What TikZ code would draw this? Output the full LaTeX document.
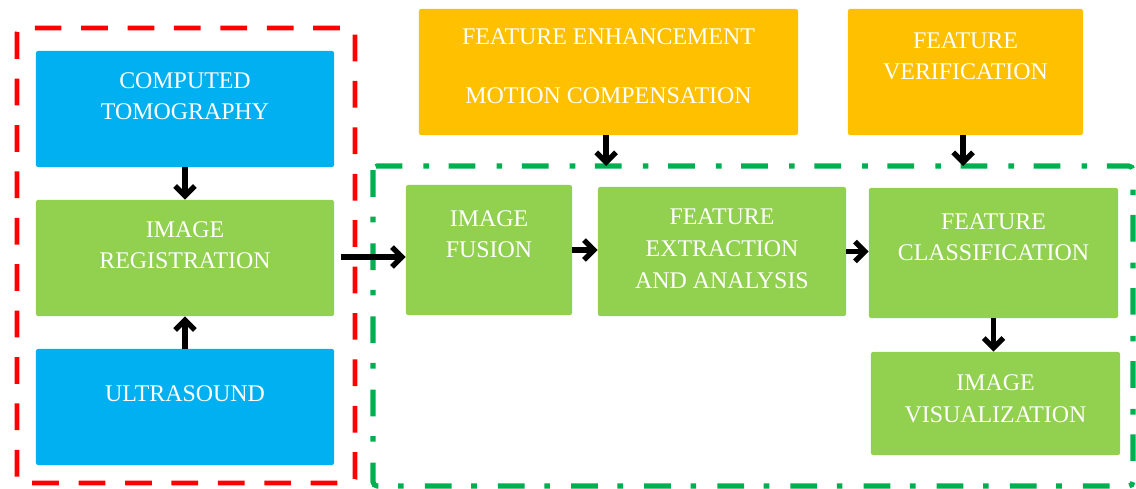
\documentclass[tikz,border=0pt]{standalone}
\usepackage{fontspec}
\setmainfont{Liberation Serif}
\usetikzlibrary{arrows.meta}
\definecolor{cblue}{HTML}{00B0F0}
\definecolor{cgreen}{HTML}{92D050}
\definecolor{corange}{HTML}{FFC000}
\definecolor{cred}{HTML}{FF0000}
\definecolor{cdgreen}{HTML}{00B050}
\begin{document}
\begin{tikzpicture}[x=0.025cm,y=-0.025cm,
  box/.style={rectangle, rounded corners=1.5pt, inner sep=0pt, align=center,
    text=white, font=\fontsize{17}{22.5}\selectfont},
  bluebox/.style={box, fill=cblue},
  greenbox/.style={box, fill=cgreen},
  orangebox/.style={box, fill=corange},
  arr/.style={line width=3.8pt, line cap=butt, -{Straight Barb[length=7pt,width=14pt]}},
  redframe/.style={draw=cred, line width=3.4pt, dash pattern=on 19pt off 14pt, rounded corners=3pt},
  greenframe/.style={draw=cdgreen, line width=3.6pt, dash pattern=on 19pt off 14pt on 4pt off 15pt, rounded corners=3pt}]
\useasboundingbox (0,0) rectangle (1136,488);

% frames
\coordinate (rtl) at (17,28);
\coordinate (rbr) at (355,483);
\coordinate (gtl) at (373,166);
\coordinate (gbr) at (1133,486);
\draw[redframe] (rtl) rectangle (rbr);
\draw[greenframe] (gtl) rectangle (gbr);

% boxes
\node[bluebox, minimum width=7.45cm, minimum height=2.9cm] (ct) at (185,109) {COMPUTED\\TOMOGRAPHY\\[-4pt]\mbox{}};
\node[greenbox, minimum width=7.45cm, minimum height=2.9cm] (reg) at (185,258) {IMAGE\\REGISTRATION\\[-4pt]\mbox{}};
\node[bluebox, minimum width=7.45cm, minimum height=2.9cm] (us) at (185,407) {ULTRASOUND\\[-4pt]\mbox{}};
\node[greenbox, minimum width=4.15cm, minimum height=3.25cm] (fus) at (489,250) {IMAGE\\FUSION\\\mbox{}};
\node[greenbox, minimum width=6.2cm, minimum height=3.225cm] (ext) at (722,251.5) {FEATURE\\EXTRACTION\\AND ANALYSIS\\[-18.5pt]\mbox{}};
\node[greenbox, minimum width=6.225cm, minimum height=3.25cm] (cls) at (993.5,253) {FEATURE\\CLASSIFICATION\\\mbox{}};
\node[greenbox, minimum width=6.225cm, minimum height=2.575cm] (vis) at (995.5,403.5) {IMAGE\\VISUALIZATION\\[-15.5pt]\mbox{}};
\node[orangebox, minimum width=9.475cm, minimum height=3.15cm] (enh) at (608.5,72) {FEATURE ENHANCEMENT\\[19.5pt]MOTION COMPENSATION\\[-14.5pt]\mbox{}};
\node[orangebox, minimum width=5.875cm, minimum height=3.15cm] (ver) at (965.5,72) {FEATURE\\VERIFICATION\\\mbox{}};

% connectors
\draw[arr] (ct.south) -- (reg.north);
\draw[arr] (us.north) -- (reg.south);
\draw[arr] ([xshift=0.175cm,yshift=0.025cm]reg.east) -- ([yshift=0.025cm]reg.east -| fus.west);
\draw[arr] (fus.east) -- (fus.east -| ext.west);
\draw[arr] (ext.east) -- (ext.east -| cls.west);
\draw[arr] ([xshift=-0.06cm]enh.south) -- ([xshift=-0.06cm]enh.south |- gtl);
\draw[arr] ([xshift=-0.06cm]ver.south) -- ([xshift=-0.06cm]ver.south |- gtl);
\draw[arr] (cls.south) -- (cls.south |- vis.north);
\end{tikzpicture}
\end{document}
